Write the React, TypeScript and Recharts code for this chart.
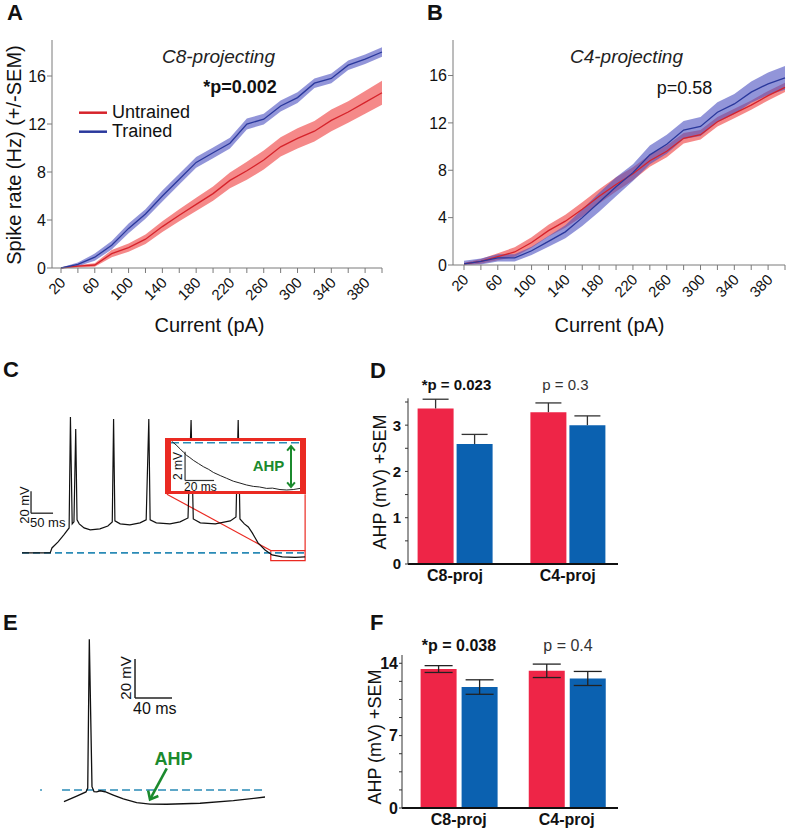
import React from "react";
import {
  ComposedChart, LineChart, BarChart, Line, Area, Bar, XAxis, YAxis,
  ErrorBar, ReferenceLine, ReferenceArea, ReferenceDot,
} from "recharts";

const FONT = "'Liberation Sans', Arial, Helvetica, sans-serif";
const RED_LINE = "#d6232b";
const RED_BAND = "#ef3b3b";
const BLUE_LINE = "#2a389c";
const BLUE_BAND = "#4a4fc0";
const BAR_RED = "#ee2547";
const BAR_BLUE = "#0b61b0";
const DASH = "#2a8bb6";
const GREEN = "#1b8a2e";
const BOX_RED = "#ea2a22";
const AXIS_GRAY = "#7a7a7a";

// ---- A / B : firing rate vs injected current ----
const currents = [20, 40, 60, 80, 100, 120, 140, 160, 180, 200, 220, 240, 260, 280, 300, 320, 340, 360, 380, 400];
const currentTickLabels = [20, 60, 100, 140, 180, 220, 260, 300, 340, 380];
const rateTicks = [0, 4, 8, 12, 16];

const c8Untrained = [0, 0.15, 0.25, 1.2, 1.7, 2.4, 3.45, 4.4, 5.3, 6.2, 7.3, 8.1, 9.0, 10.1, 10.8, 11.4, 12.3, 13.0, 13.8, 14.6];
const c8UntrainedSem = [0.05, 0.1, 0.15, 0.3, 0.35, 0.4, 0.45, 0.5, 0.55, 0.6, 0.65, 0.75, 0.8, 0.8, 0.85, 0.85, 0.9, 0.9, 0.95, 1.0];
const c8Trained = [0, 0.3, 0.9, 1.9, 3.3, 4.5, 6.0, 7.4, 8.8, 9.6, 10.4, 12.0, 12.4, 13.5, 14.2, 15.4, 15.8, 16.9, 17.4, 18.0];
const c8TrainedSem = [0.05, 0.15, 0.3, 0.35, 0.4, 0.4, 0.45, 0.45, 0.45, 0.45, 0.45, 0.45, 0.45, 0.45, 0.45, 0.4, 0.4, 0.4, 0.4, 0.4];

const c4Untrained = [0.1, 0.3, 0.7, 1.1, 1.9, 2.9, 3.7, 4.7, 5.8, 6.8, 7.7, 8.8, 9.6, 10.7, 11.0, 12.1, 12.8, 13.5, 14.3, 15.0];
const c4UntrainedSem = [0.1, 0.2, 0.3, 0.4, 0.45, 0.5, 0.55, 0.6, 0.6, 0.6, 0.55, 0.5, 0.5, 0.45, 0.4, 0.4, 0.4, 0.4, 0.4, 0.4];
const c4Trained = [0.1, 0.3, 0.6, 0.6, 1.2, 2.0, 2.8, 4.0, 5.3, 6.6, 7.8, 9.3, 10.2, 11.4, 11.7, 12.9, 13.6, 14.6, 15.3, 15.8];
const c4TrainedSem = [0.25, 0.25, 0.3, 0.3, 0.35, 0.45, 0.55, 0.7, 0.8, 0.8, 0.7, 0.8, 0.8, 0.75, 0.8, 0.85, 0.85, 0.9, 0.95, 1.0];

// ---- C : spike train (ms, mV) ----
const trainTime = [0, 64, 68, 82, 95, 107, 110, 114, 118, 122, 125, 130, 141, 155, 177, 195, 205, 208, 211, 223, 245, 268, 282, 288, 291, 305, 336, 359, 377, 384, 389, 405, 439, 473, 486, 491, 495, 505, 514, 523, 536, 552, 568, 591, 620, 643];
const trainVolt = [-65, -65, -60.5, -55, -48.6, -42.3, 58.6, -38.6, -36.8, 47.7, -35, -38.6, -42.3, -44.1, -43.2, -40.5, -36.8, 56.8, -35.9, -38.6, -39.5, -37.7, -35, 56.8, -35, -37.7, -38.6, -36.8, -33.2, 55.9, -34.1, -37.7, -38.6, -35.9, -32.3, 55.9, -34.1, -38.6, -41.4, -46.8, -55.9, -62.3, -66.8, -68.6, -69.1, -68.6];

// inset: AHP decay (ms, mV relative to baseline)
const insetTime = [0.5, 3.5, 6.2, 8.5, 10.8, 13, 15.4, 19, 22.3, 26, 29.2, 34, 38.4, 43, 47.6, 52, 56.8, 61, 66, 70, 75.2, 79.8, 84.3, 89];
const insetVolt = [0.05, -0.2, -0.47, -0.7, -0.93, -1.08, -1.27, -1.5, -1.71, -1.9, -2.11, -2.33, -2.52, -2.72, -2.85, -2.98, -3.08, -3.12, -3.22, -3.2, -3.3, -3.33, -3.3, -3.22];

// ---- E : single spike (ms, mV) ----
const spikeTime = [25.9, 39.7, 49.7, 51.6, 53.3, 56.2, 58.4, 61.3, 64.9, 70.3, 79.2, 90.1, 104.5, 118.9, 137, 173, 209, 243.2];
const spikeVolt = [-66.0, -63.1, -61.0, -59.0, 17.3, -58.3, -60.9, -61.0, -60.4, -60.9, -62.6, -64.6, -66.5, -67.2, -67.3, -66.8, -65.5, -63.6];

// ---- D / F : AHP amplitude ----
const groups = ["C8-proj", "C4-proj"];
const ahpUntrainedD = [3.36, 3.28];
const ahpUntrainedSemD = [0.2, 0.2];
const ahpTrainedD = [2.59, 3.0];
const ahpTrainedSemD = [0.21, 0.2];
const dTicks = [0, 0.5, 1, 1.5, 2, 2.5, 3, 3.5];
const dTickLabels = [0, 1, 2, 3];

const ahpUntrainedF = [13.44, 13.27];
const ahpUntrainedSemF = [0.33, 0.65];
const ahpTrainedF = [11.7, 12.53];
const ahpTrainedSemF = [0.7, 0.68];
const fTicks = [0, 1.75, 3.5, 5.25, 7, 8.75, 10.5, 12.25, 14];
const fTickLabels = [0, 7, 14];

const fiRows = (u: number[], uSem: number[], t: number[], tSem: number[]) =>
  currents.map((c, i) => ({
    current: c,
    u: u[i],
    uBand: [Math.max(0, u[i] - uSem[i]), u[i] + uSem[i]],
    t: t[i],
    tBand: [Math.max(0, t[i] - tSem[i]), t[i] + tSem[i]],
  }));

const trainRows = trainTime.map((t, i) => ({ t, v: trainVolt[i] }));
const insetRows = insetTime.map((t, i) => ({ t, v: insetVolt[i] }));
const spikeRows = spikeTime.map((t, i) => ({ t, v: spikeVolt[i] }));
const dRows = groups.map((g, i) => ({ group: g, u: ahpUntrainedD[i], uSem: ahpUntrainedSemD[i], t: ahpTrainedD[i], tSem: ahpTrainedSemD[i] }));
const fRows = groups.map((g, i) => ({ group: g, u: ahpUntrainedF[i], uSem: ahpUntrainedSemF[i], t: ahpTrainedF[i], tSem: ahpTrainedSemF[i] }));

/* eslint-disable @typescript-eslint/no-explicit-any */
function CurrentTick(props: any) {
  const { x, y, payload } = props;
  if (!currentTickLabels.includes(payload.value)) return <g />;
  const ax = x + 5.5, ay = y + 8.5;
  return (
    <text x={ax} y={ay} textAnchor="end" fontSize={15} fontFamily={FONT} fill="#111" transform={`rotate(-45 ${ax} ${ay})`}>
      {payload.value}
    </text>
  );
}

const numTick = (labels: number[], size: number) => (props: any) => {
  const { x, y, payload } = props;
  if (!labels.includes(payload.value)) return <g />;
  return (
    <text x={x} y={y} dy="0.36em" textAnchor="end" fontSize={size} fontWeight="bold" fontFamily={FONT} fill="#111">
      {payload.value}
    </text>
  );
};

function GroupTick(props: any) {
  const { x, y, payload } = props;
  return (
    <text x={x} y={y + 17} textAnchor="middle" fontSize={16} fontWeight="bold" fontFamily={FONT} fill="#111">
      {payload.value}
    </text>
  );
}

function SemCap(props: any) {
  const { x, y, width, height } = props;
  const cx = x + width / 2;
  return (
    <g stroke="#333" strokeWidth={1.3}>
      <line x1={cx} y1={y} x2={cx} y2={y + height} />
      <line x1={cx - 13} y1={y} x2={cx + 13} y2={y} />
    </g>
  );
}

const arrow = (both: boolean, w: number, head: number) => (p: any) => {
  const { x1, y1, x2, y2 } = p;
  const a = Math.atan2(y2 - y1, x2 - x1);
  const chev = (x: number, y: number, ang: number) => {
    const l = { x: x - head * Math.cos(ang - 0.7), y: y - head * Math.sin(ang - 0.7) };
    const r = { x: x - head * Math.cos(ang + 0.7), y: y - head * Math.sin(ang + 0.7) };
    return <polyline points={`${l.x},${l.y} ${x},${y} ${r.x},${r.y}`} fill="none" stroke={GREEN} strokeWidth={w} strokeLinejoin="miter" />;
  };
  return (
    <g>
      <line x1={x1} y1={y1} x2={x2} y2={y2} stroke={GREEN} strokeWidth={w} />
      {chev(x2, y2, a)}
      {both && chev(x1, y1, a + Math.PI)}
    </g>
  );
};
/* eslint-enable @typescript-eslint/no-explicit-any */

function FIPanel({ left, width, yAxisW, marginRight, xAxisH, padLeft, rows }: any) {
  return (
    <div style={{ position: "absolute", left, top: 0 }}>
      <ComposedChart width={width} height={340} data={rows} margin={{ top: 40, right: marginRight, bottom: 0, left: 0 }}>
        <XAxis dataKey="current" type="number" domain={[20, 400]} ticks={currents} interval={0}
          padding={{ left: padLeft, right: 0 }} height={xAxisH} tickSize={5} tickMargin={2}
          stroke={AXIS_GRAY} tick={<CurrentTick />} />
        <YAxis type="number" domain={[0, 19]} ticks={rateTicks} width={yAxisW} tickSize={5} tickMargin={1}
          stroke={AXIS_GRAY} tick={{ fontSize: 16, fill: "#111", fontFamily: FONT }} />
        <Area dataKey="uBand" fill={RED_BAND} fillOpacity={0.6} stroke="none" isAnimationActive={false} />
        <Area dataKey="tBand" fill={BLUE_BAND} fillOpacity={0.6} stroke="none" isAnimationActive={false} />
        <Line dataKey="u" stroke={RED_LINE} strokeWidth={1.3} dot={false} isAnimationActive={false} />
        <Line dataKey="t" stroke={BLUE_LINE} strokeWidth={1.3} dot={false} isAnimationActive={false} />
      </ComposedChart>
    </div>
  );
}

const T = (p: any) => <text fontFamily={FONT} fill="#111" {...p} />;

export default function App() {
  return (
    <div style={{ position: "absolute", left: 0, top: 0, width: 789, height: 831, background: "#fff", overflow: "hidden" }}>
      <FIPanel left={0} width={395} yAxisW={52} marginRight={13} xAxisH={72} padLeft={9}
        rows={fiRows(c8Untrained, c8UntrainedSem, c8Trained, c8TrainedSem)} />
      <FIPanel left={400} width={389} yAxisW={53} marginRight={4} xAxisH={75} padLeft={11}
        rows={fiRows(c4Untrained, c4UntrainedSem, c4Trained, c4TrainedSem)} />

      {/* C: spike train */}
      <div style={{ position: "absolute", left: 22, top: 400 }}>
        <LineChart width={284} height={165} data={trainRows} margin={{ top: 0, right: 0, bottom: 0, left: 0 }}>
          <XAxis dataKey="t" type="number" domain={[0, 645]} hide />
          <YAxis type="number" domain={[-76, 74]} hide />
          <ReferenceLine y={-65} stroke={DASH} strokeWidth={1.6} strokeDasharray="7 4" />
          <ReferenceArea x1={565} x2={643} y1={-72} y2={-62.9} fill="none" stroke={BOX_RED} strokeWidth={1.2} fillOpacity={0} />
          <ReferenceLine segment={[{ x: 329, y: -11.6 }, { x: 565, y: -62.9 }]} stroke={BOX_RED} strokeWidth={1.2} />
          <ReferenceLine segment={[{ x: 643, y: -11.6 }, { x: 643, y: -62.9 }]} stroke={BOX_RED} strokeWidth={1.2} />
          <ReferenceLine segment={[{ x: 20.5, y: -8.9 }, { x: 20.5, y: -28.9 }]} stroke="#222" strokeWidth={1.3} />
          <ReferenceLine segment={[{ x: 20.5, y: -28.9 }, { x: 70.5, y: -28.9 }]} stroke="#222" strokeWidth={1.3} />
          <Line dataKey="v" stroke="#111" strokeWidth={1.2} dot={false} isAnimationActive={false} />
        </LineChart>
      </div>
      <div style={{ position: "absolute", left: 165, top: 438, width: 141, height: 56, boxSizing: "border-box",
        borderStyle: "solid", borderColor: BOX_RED, borderWidth: "3px 6px 3px 6px", background: "#fff" }}>
        <LineChart width={129} height={50} data={insetRows} margin={{ top: 0, right: 0, bottom: 0, left: 0 }}>
          <XAxis dataKey="t" type="number" domain={[0, 89]} hide />
          <YAxis type="number" domain={[-3.4, 0.07]} hide />
          <ReferenceLine y={-0.05} stroke={DASH} strokeWidth={1.6} strokeDasharray="8 4" />
          <ReferenceLine segment={[{ x: 9.7, y: -0.67 }, { x: 9.7, y: -2.67 }]} stroke="#333" strokeWidth={1.2} />
          <ReferenceLine segment={[{ x: 9.7, y: -2.67 }, { x: 29.7, y: -2.67 }]} stroke="#333" strokeWidth={1.2} />
          <ReferenceLine segment={[{ x: 82.8, y: -0.28 }, { x: 82.8, y: -3.12 }]} shape={arrow(true, 2, 6)} />
          <Line dataKey="v" stroke="#222" strokeWidth={1} dot={false} isAnimationActive={false} />
        </LineChart>
      </div>

      {/* D */}
      <div style={{ position: "absolute", left: 330, top: 380 }}>
        <BarChart width={300} height={230} data={dRows} margin={{ top: 18.3, right: 12, bottom: 0, left: 0 }} barSize={36} barGap={3}>
          <XAxis dataKey="group" height={46} padding={{ left: -9.4, right: -6.2 }} tickLine={false} tickSize={0} tickMargin={0}
            axisLine={{ stroke: "#111", strokeWidth: 2 }} tick={<GroupTick />} />
          <YAxis type="number" domain={[0, 3.58]} ticks={dTicks} interval={0} width={78} tickSize={3} tickMargin={4}
            stroke="#333" tick={numTick(dTickLabels, 15)} />
          <Bar dataKey="u" stackId="u" fill={BAR_RED} isAnimationActive={false} />
          <Bar dataKey="uSem" stackId="u" shape={SemCap} isAnimationActive={false} />
          <Bar dataKey="t" stackId="t" fill={BAR_BLUE} isAnimationActive={false} />
          <Bar dataKey="tSem" stackId="t" shape={SemCap} isAnimationActive={false} />
        </BarChart>
      </div>

      {/* E: single spike */}
      <div style={{ position: "absolute", left: 40, top: 630 }}>
        <LineChart width={230} height={180} data={spikeRows} margin={{ top: 0, right: 0, bottom: 0, left: 0 }}>
          <XAxis dataKey="t" type="number" domain={[0, 248.6]} hide />
          <YAxis type="number" domain={[-70.26, 22.05]} hide />
          <ReferenceLine segment={[{ x: 23.8, y: -60 }, { x: 243.2, y: -60 }]} stroke={DASH} strokeWidth={1.6} strokeDasharray="8 4" />
          <ReferenceDot x={1.1} y={-60} r={0.9} fill={DASH} stroke="none" />
          <ReferenceLine segment={[{ x: 102.7, y: 7.2 }, { x: 102.7, y: -12.8 }]} stroke="#222" strokeWidth={1.5} />
          <ReferenceLine segment={[{ x: 102.7, y: -12.8 }, { x: 142.7, y: -12.8 }]} stroke="#222" strokeWidth={1.5} />
          <Line dataKey="v" stroke="#111" strokeWidth={1.3} dot={false} isAnimationActive={false} />
          <ReferenceLine segment={[{ x: 137, y: -48.9 }, { x: 118.9, y: -64.8 }]} shape={arrow(false, 2.6, 9)} />
        </LineChart>
      </div>

      {/* F */}
      <div style={{ position: "absolute", left: 330, top: 640 }}>
        <BarChart width={300} height={191} data={fRows} margin={{ top: 15, right: 12, bottom: 0, left: 0 }} barSize={36} barGap={5}>
          <XAxis dataKey="group" height={23} padding={{ left: 2.6, right: -2.9 }} tickLine={false} tickSize={0} tickMargin={0}
            axisLine={{ stroke: "#111", strokeWidth: 2 }} tick={<GroupTick />} />
          <YAxis type="number" domain={[0, 14.8]} ticks={fTicks} interval={0} width={72} tickSize={3} tickMargin={1}
            stroke="#333" tick={numTick(fTickLabels, 16)} />
          <Bar dataKey="u" fill={BAR_RED} isAnimationActive={false}>
            <ErrorBar dataKey="uSem" width={14} stroke="#222" strokeWidth={1.3} direction="y" />
          </Bar>
          <Bar dataKey="t" fill={BAR_BLUE} isAnimationActive={false}>
            <ErrorBar dataKey="tSem" width={14} stroke="#222" strokeWidth={1.3} direction="y" />
          </Bar>
        </BarChart>
      </div>

      {/* text layer */}
      <svg width={789} height={831} style={{ position: "absolute", left: 0, top: 0, pointerEvents: "none" }}>
        <T x={7} y={20} fontSize={22} fontWeight="bold">A</T>
        <T x={427} y={20} fontSize={22} fontWeight="bold">B</T>
        <T x={3} y={377} fontSize={22} fontWeight="bold">C</T>
        <T x={370} y={378} fontSize={22} fontWeight="bold">D</T>
        <T x={3} y={630} fontSize={22} fontWeight="bold">E</T>
        <T x={370} y={630} fontSize={22} fontWeight="bold">F</T>

        <T x={21} y={155} fontSize={20} textAnchor="middle" transform="rotate(-90 21 155)">Spike rate (Hz) (+/-SEM)</T>
        <T x={209.5} y={332} fontSize={20} textAnchor="middle">Current (pA)</T>
        <T x={609.5} y={332} fontSize={20} textAnchor="middle">Current (pA)</T>
        <T x={218.5} y={63} fontSize={19} fontStyle="italic" textAnchor="middle" fill="#222">C8-projecting</T>
        <T x={626.5} y={63} fontSize={19} fontStyle="italic" textAnchor="middle" fill="#222">C4-projecting</T>
        <T x={240} y={93} fontSize={18} fontWeight="bold" textAnchor="middle">*p=0.002</T>
        <T x={684.5} y={94} fontSize={18} textAnchor="middle">p=0.58</T>
        <line x1={79} y1={112.7} x2={107} y2={112.7} stroke={RED_LINE} strokeWidth={2.5} />
        <line x1={79} y1={131.7} x2={107} y2={131.7} stroke={BLUE_LINE} strokeWidth={2.5} />
        <T x={112} y={118} fontSize={18}>Untrained</T>
        <T x={112} y={137} fontSize={18}>Trained</T>

        <T x={29} y={505} fontSize={13} textAnchor="middle" transform="rotate(-90 29 505)">20 mV</T>
        <T x={30} y={527} fontSize={13}>50 ms</T>
        <T x={182} y={466} fontSize={12} textAnchor="middle" transform="rotate(-90 182 466)">2 mV</T>
        <T x={184} y={491} fontSize={12}>20 ms</T>
        <T x={268.5} y={471} fontSize={15} fontWeight="bold" textAnchor="middle" fill={GREEN}>AHP</T>

        <T x={456.5} y={390} fontSize={15} fontWeight="bold" textAnchor="middle">*p = 0.023</T>
        <T x={565.5} y={390} fontSize={15} textAnchor="middle" fill="#333">p = 0.3</T>
        <T x={386} y={482} fontSize={18} textAnchor="middle" transform="rotate(-90 386 482)">AHP (mV) +SEM</T>

        <T x={131} y={678} fontSize={15} textAnchor="middle" transform="rotate(-90 131 678)">20 mV</T>
        <T x={133} y={714} fontSize={16}>40 ms</T>
        <T x={173.5} y={765} fontSize={18} fontWeight="bold" textAnchor="middle" fill={GREEN}>AHP</T>

        <T x={459} y={651} fontSize={16} fontWeight="bold" textAnchor="middle">*p = 0.038</T>
        <T x={568} y={651} fontSize={16} textAnchor="middle" fill="#333">p = 0.4</T>
        <T x={381} y={737} fontSize={18} textAnchor="middle" transform="rotate(-90 381 737)">AHP (mV) +SEM</T>
      </svg>
    </div>
  );
}
